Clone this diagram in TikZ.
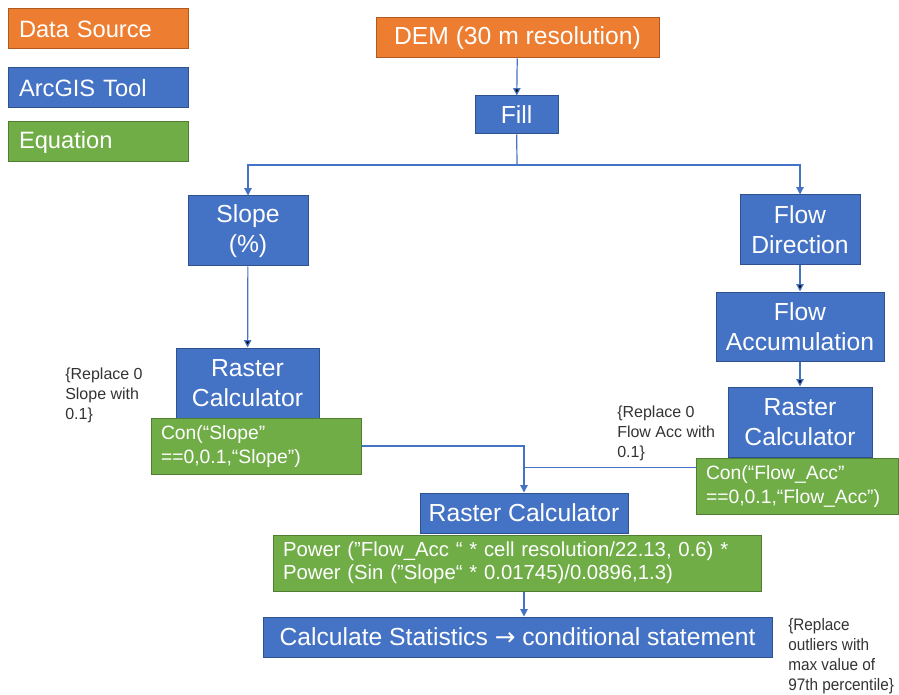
\documentclass[tikz,border=0pt]{standalone}
\usepackage{fontspec}
\setmainfont{Liberation Sans}
\newfontfamily\narrowfont[FakeStretch=0.92]{Liberation Sans}
\newfontfamily\arrowfont{DejaVu Sans}
\usetikzlibrary{arrows.meta, calc}

\definecolor{orangefill}{HTML}{ED7D31}
\definecolor{orangeline}{HTML}{AE5A21}
\definecolor{bluefill}{HTML}{4472C4}
\definecolor{blueline}{HTML}{2F528F}
\definecolor{greenfill}{HTML}{70AD47}
\definecolor{greenline}{HTML}{507E32}

\begin{document}
\begin{tikzpicture}[x=0.75pt, y=-0.75pt, inner sep=0pt,
  box/.style={draw, line width=0.75pt, text=white, align=center, font=\fontsize{18.5}{22.5}\selectfont},
  source/.style={box, fill=orangefill, draw=orangeline},
  tool/.style={box, fill=bluefill, draw=blueline},
  eqn/.style={box, fill=greenfill, draw=greenline, align=left, inner xsep=7.5pt, font=\fontsize{14.5}{18}\selectfont},
  key/.style={align=left, inner xsep=8.25pt, text width=118.5pt, minimum height=30pt, font=\fontsize{17.75}{20}\selectfont},
  note/.style={anchor=west, align=left, text=black!80, font=\fontsize{12}{15}\selectfont},
  link/.style={draw=bluefill, line width=0.9pt, -{Triangle[length=5.5pt, width=5.5pt]}},
  line/.style={draw=bluefill, line width=0.9pt}]
\useasboundingbox (0,0) rectangle (899,695);

% legend
\node (keyS) [source, key] at (98,29) {Data Source};
\node (keyT) [tool, key] at (98,88) {ArcGIS Tool};
\node (keyE) [eqn, key] at (98,142) {Equation};

% flow chart
\node (dem) [source, minimum width=212.25pt, minimum height=30pt] at (517.5,38) {DEM (30 m resolution)};
\node (fill) [tool, minimum width=62.25pt, minimum height=28.5pt] at (516.5,115) {Fill};
\node (slope) [tool, minimum width=90pt, minimum height=52.5pt] at (248,231) {Slope\\(\%)};
\node (fdir) [tool, minimum width=90pt, minimum height=52.5pt] at (800,230) {Flow\\Direction};
\node (facc) [tool, minimum width=126pt, minimum height=51.75pt] at (800,326.5) {Flow\\Accumulation};
\node (rcalcR) [tool, minimum width=108pt, minimum height=52.5pt] at (800,422) {Raster\\Calculator};
\node (conR) [eqn, text width=136.5pt, minimum height=42pt] at (797,486) {Con(“Flow\_Acc"\\==0,0.1,“Flow\_Acc")};
\node (rcalcL) [tool, minimum width=107.25pt, minimum height=52.5pt] at (247.5,383) {Raster\\Calculator};
\node (conL) [eqn, text width=142.5pt, minimum height=42pt] at (256,446) {Con(“Slope"\\==0,0.1,“Slope")};
\node (rcalc) [tool, minimum width=156pt, minimum height=30pt] at (524,513) {Raster Calculator};
\node (power) [eqn, text width=351pt, minimum height=42pt, font=\fontsize{15.25}{17.5}\selectfont] at (517,563)
  {\mbox{Power ("Flow\_Acc “ * cell resolution/22.13, 0.6) *}\\\mbox{Power (Sin ("Slope“ * 0.01745)/0.0896,1.3)}};
\node (stats) [tool, minimum width=381.75pt, minimum height=30pt] at (517.5,637) {Calculate Statistics {\arrowfont→} conditional statement};

% side notes
\node (noteL) [note] at (65,395) {\{Replace 0\\Slope with\\0.1\}};
\node (noteR) [note] at (617,433) {\{Replace 0\\Flow Acc with\\0.1\}};
\node (noteB) [note, font=\narrowfont\fontsize{12.5}{15}\selectfont] at (788,656) {\{Replace\\outliers with\\max value of\\97th percentile\}};

\coordinate (split) at (517,165);
\coordinate (accout) at ($(conR.north west)!0.18!(conR.south west)$);

\path [link]
     (dem) edge (fill)
     (slope) edge (rcalcL)
     (fdir) edge (facc)
     (facc) edge (rcalcR);
\draw [line] (fill) -- (split);
\draw [link] (split) -| (slope);
\draw [link] (split) -| (fdir);
\draw [link] (conL.east) -| (rcalc.north);
\draw [line] (accout) -- (accout -| rcalc.north);
\draw [link] (power.south -| rcalc) -- (stats.north -| rcalc);
\end{tikzpicture}
\end{document}
